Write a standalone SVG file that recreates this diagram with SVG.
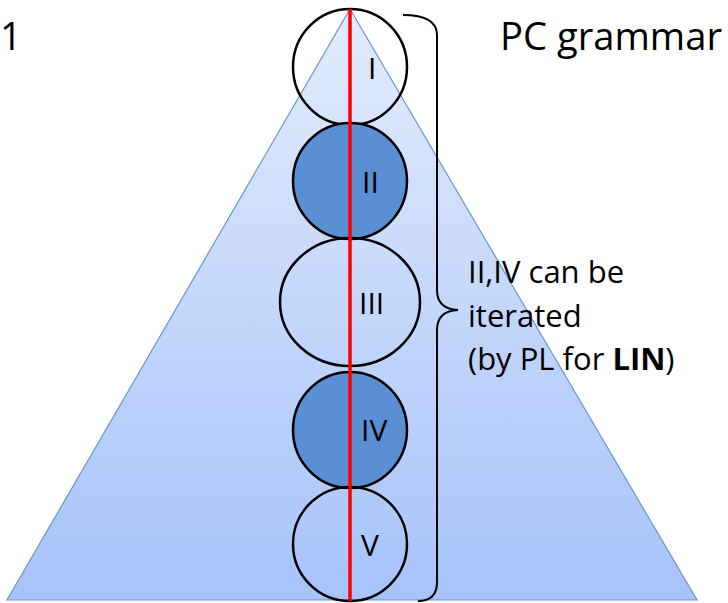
<svg xmlns="http://www.w3.org/2000/svg" width="728" height="603" viewBox="0 0 728 603">
<defs>
<linearGradient id="tri" x1="0" y1="0" x2="0" y2="1">
<stop offset="0" stop-color="#e3ecfc"/>
<stop offset="1" stop-color="#a6c3fa"/>
</linearGradient>
<style>
.c{stroke:#000;stroke-width:2.5;fill:none}
.d{fill:#5a8fd3}
.t{font-family:"Open Sans","Liberation Sans",sans-serif;fill:#000}
.lab{font-size:30px}
</style>
</defs>
<rect width="728" height="603" fill="#fff"/>
<g id="triangle">
<polygon points="350,9 697,600 7,600" fill="url(#tri)" stroke="#6a94cf" stroke-width="1.2"/>
</g>
<g id="n1"><ellipse class="c" cx="350" cy="67" rx="57" ry="58"/><text class="t lab" x="368" y="79">I</text></g>
<g id="n2"><ellipse class="c d" cx="350" cy="181" rx="57" ry="58"/><text class="t lab" x="362" y="193">II</text></g>
<g id="n3"><ellipse class="c" cx="350" cy="302" rx="70" ry="64"/><text class="t lab" x="359" y="314">III</text></g>
<g id="n4"><ellipse class="c d" cx="350" cy="430" rx="57" ry="58"/><text class="t lab" x="361" y="441">IV</text></g>
<g id="n5"><ellipse class="c" cx="350" cy="544" rx="57" ry="57"/><text class="t lab" x="361" y="556">V</text></g>
<g id="connectors">
<line x1="350" y1="9" x2="350" y2="601" stroke="#ff0000" stroke-width="3.5"/>
<path d="M403,15 Q437,15 437,35 L437,290 Q437,309 458,310 Q437,311 437,330 L437,582 Q437,601 418,601" fill="none" stroke="#000" stroke-width="2"/>
</g>
<text class="t" x="0" y="50" font-size="38">1</text>
<text class="t" x="500" y="50" font-size="38" textLength="222" lengthAdjust="spacingAndGlyphs">PC grammar</text>
<text class="t" font-size="31"><tspan x="468" y="283">II,IV can be</tspan><tspan x="468" y="327">iterated</tspan><tspan x="468" y="370">(by PL for <tspan font-weight="bold">LIN</tspan>)</tspan></text>
</svg>
